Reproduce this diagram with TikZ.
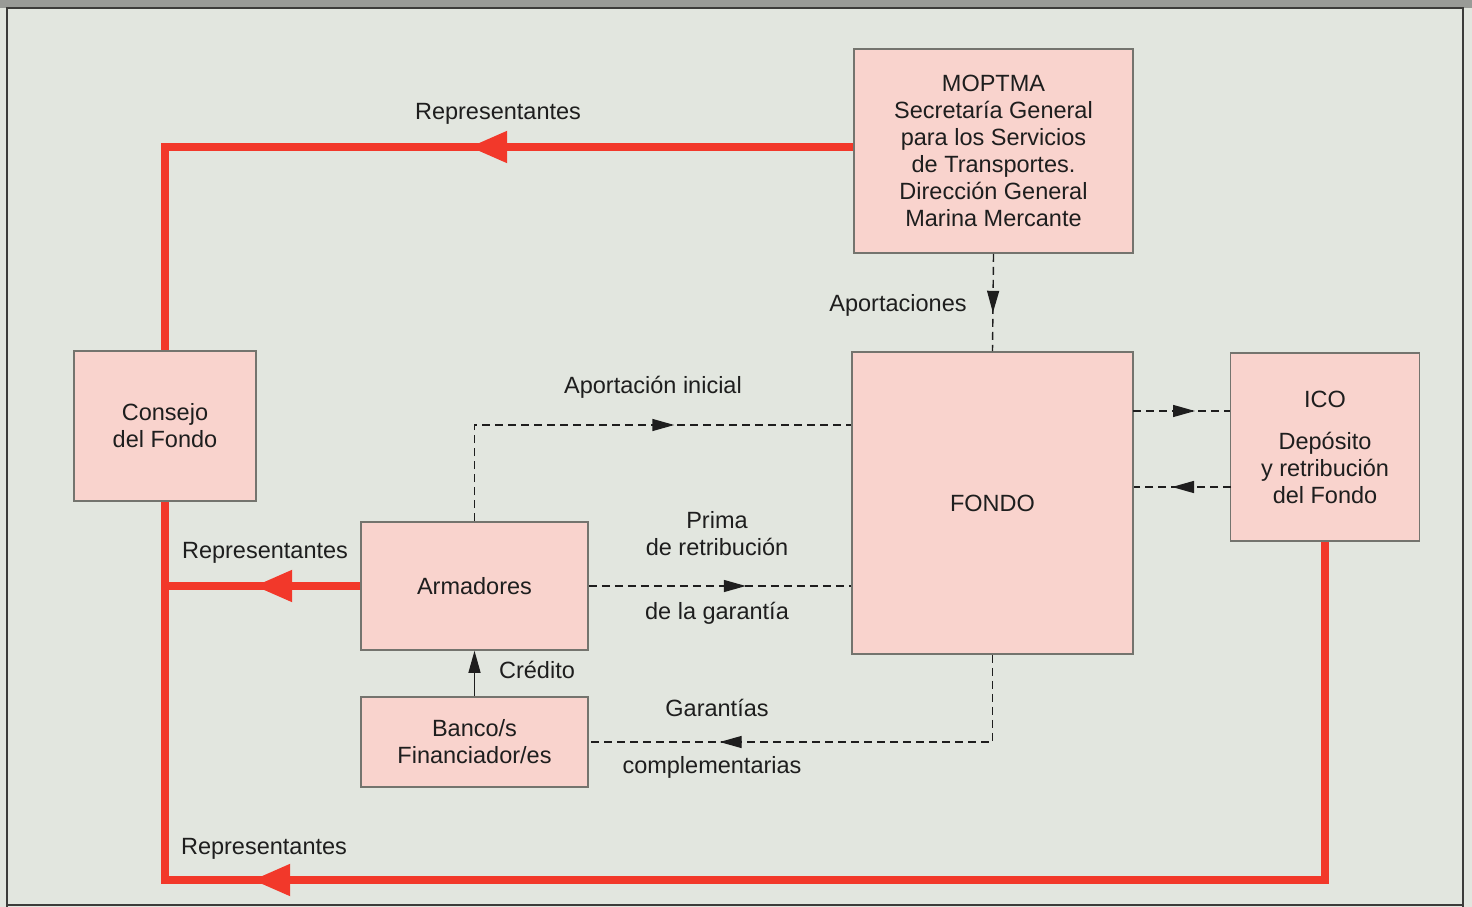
\documentclass[tikz,border=0pt]{standalone}
\usepackage{fontspec}
\setmainfont{Liberation Sans}
\usetikzlibrary{arrows.meta,decorations.markings}
\definecolor{bgc}{HTML}{E2E6DF}
\definecolor{bandc}{HTML}{999B97}
\definecolor{framec}{HTML}{3C3C3A}
\definecolor{boxfill}{HTML}{F9D3CD}
\definecolor{boxdraw}{HTML}{74746E}
\definecolor{redc}{HTML}{F2382A}
\definecolor{txtc}{HTML}{1E1E1E}
\tikzset{
  box/.style={draw=boxdraw, line width=1.6pt, fill=boxfill, align=center, inner sep=0pt,
    text=txtc, font=\fontsize{23.5}{27}\selectfont},
  lbl/.style={align=center, inner sep=0pt, text=txtc, font=\fontsize{23.5}{27}\selectfont},
  redline/.style={draw=redc, line width=8pt},
  redarrow/.style={postaction={decorate, decoration={markings,
      mark=at position #1 with {\arrow[redc]{Triangle[length=38pt,width=30pt]}}}}},
  dline/.style={draw=txtc, line width=1.4pt, dash pattern=on 8pt off 5pt},
  darrow/.style={postaction={decorate, decoration={markings,
      mark=at position #1 with {\arrow[txtc]{Triangle[length=22pt,width=12pt]}}}}},
}
\begin{document}
\begin{tikzpicture}[x=1pt,y=-1pt]
\useasboundingbox (0,0) rectangle (1472,907);
% background
\fill[bgc] (0,0) rectangle (1472,907);
\fill[bandc] (0,0) rectangle (1472,8);
\draw[framec, line width=2pt] (7,907) -- (7,8) -- (1463,8) -- (1463,907);
\draw[framec, line width=2pt] (7,905) -- (1463,905);

% boxes
\node[box, minimum width=279pt, minimum height=204pt] (mop) at (993.5,151)
  {MOPTMA\\Secretaría General\\para los Servicios\\de Transportes.\\Dirección General\\Marina Mercante};
\node[box, minimum width=281pt, minimum height=302pt] (fondo) at (992.5,503) {FONDO};
\node[box, minimum width=189pt, minimum height=188pt] (ico) at (1325,447)
  {ICO\\[15pt]Depósito\\y retribución\\del Fondo};
\node[box, minimum width=182pt, minimum height=150pt] (cons) at (165,426) {Consejo\\del Fondo};
\node[box, minimum width=227pt, minimum height=128pt] (arm) at (474.5,586) {Armadores};
\node[box, minimum width=227pt, minimum height=90pt] (banco) at (474.5,742) {Banco/s\\Financiador/es};

% red connectors
\coordinate (r1) at (cons.north |- 0,147);
\coordinate (r2) at (ico.south |- 0,880);
\coordinate (r3) at (cons.south |- 0,880);
\coordinate (r4) at (cons.south |- arm.west);
\path[redline, redarrow=384pt] ([yshift=4pt]mop.west) -- (r1) -- (cons.north);
\path[redline, redarrow=1411pt] (ico.south) -- (r2) -- (r3) -- (cons.south);
\path[redline, redarrow=106pt] (arm.west) -- (r4);

% dashed connectors
\path[dline, darrow=59pt] (mop.south) -- (fondo.north);
\coordinate (d1) at (474.5,425);
\path[dline, darrow=296pt] (arm.north) -- (d1) -- (d1 -| fondo.west);
\path[dline, darrow=157pt] (arm.east) -- (arm.east -| fondo.west);
\coordinate (d2) at (fondo.south |- banco.east);
\path[dline, darrow=360pt] (fondo.south) -- (d2) -- (banco.east);
\coordinate (d3) at (1133,411);
\path[dline, darrow=62pt] (d3) -- (d3 -| ico.west);
\coordinate (d4) at (1231,487);
\path[dline, darrow=59pt] (d4) -- (d4 -| fondo.east);
\draw[txtc, line width=1.3pt, -{Triangle[length=22pt,width=12pt]}] (banco.north) -- (arm.south);

% labels
\node[lbl] (lrep1) at (498,114) {Representantes};
\node[lbl] (lrep2) at (265,553) {Representantes};
\node[lbl] (lrep3) at (264,849) {Representantes};
\node[lbl] (lapo) at (898,305) {Aportaciones};
\node[lbl] (lini) at (653,387) {Aportación inicial};
\node[lbl] (lprima) at (717,533.5) {Prima\\de retribución};
\node[lbl] (lgar) at (717,613) {de la garantía};
\node[lbl] (lcre) at (537,670) {Crédito};
\node[lbl] (lgarc) at (717,708) {Garantías};
\node[lbl] (lcomp) at (712,767) {complementarias};
\end{tikzpicture}
\end{document}
